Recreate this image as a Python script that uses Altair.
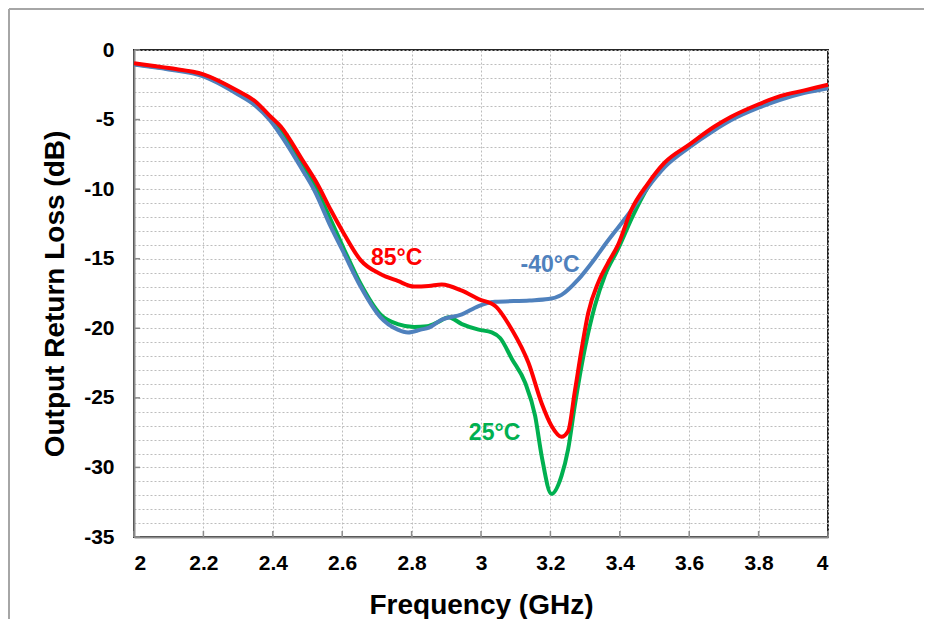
import altair as alt
import pandas as pd

# -40°C (blue)
f_m40 = [2.0, 2.1, 2.2, 2.3, 2.35, 2.39, 2.42, 2.485, 2.52, 2.567, 2.605, 2.653, 2.71, 2.76, 2.79,
         2.826, 2.85, 2.885, 2.945, 2.993, 3.04, 3.14, 3.194, 3.232, 3.28, 3.328, 3.357, 3.397,
         3.44, 3.48, 3.53, 3.6, 3.67, 3.72, 3.8, 3.86, 3.93, 4.0]
db_m40 = [-1.05, -1.4, -1.9, -3.2, -4.0, -5.0, -6.0, -8.6, -10.1, -12.7, -14.6, -17.0, -19.2, -20.1, -20.3,
          -20.1, -19.95, -19.4, -19.0, -18.4, -18.1, -18.0, -17.9, -17.6, -16.5, -15.0, -14.0, -12.7,
          -11.3, -9.9, -8.4, -7.0, -5.8, -5.05, -4.15, -3.6, -3.1, -2.75]

# 25°C (green)
f_25 = [2.0, 2.1, 2.2, 2.3, 2.39, 2.423, 2.485, 2.519, 2.567, 2.605, 2.653, 2.71, 2.76, 2.807,
        2.845, 2.88, 2.906, 2.945, 2.993, 3.031, 3.055, 3.089, 3.127, 3.156, 3.175, 3.203, 3.232,
        3.251, 3.27, 3.299, 3.328, 3.357, 3.395, 3.44, 3.48, 3.53, 3.6, 3.67, 3.72, 3.8, 3.86, 3.93, 4.0]
db_25 = [-1.0, -1.35, -1.8, -3.05, -4.85, -5.7, -8.3, -9.7, -12.2, -14.3, -16.8, -19.0, -19.7, -19.9,
         -19.85, -19.5, -19.2, -19.7, -20.1, -20.3, -20.7, -22.2, -23.9, -26.3, -29.2, -31.9, -30.6,
         -28.7, -25.6, -21.5, -18.4, -16.2, -14.3, -11.8, -9.9, -8.3, -6.95, -5.7, -4.95, -4.05, -3.45, -3.0, -2.6]

# 85°C (red)
f_85 = [2.0, 2.1, 2.2, 2.3, 2.35, 2.39, 2.423, 2.485, 2.53, 2.567, 2.605, 2.653, 2.71, 2.76, 2.807,
        2.849, 2.887, 2.945, 2.993, 3.041, 3.089, 3.137, 3.175, 3.203, 3.232, 3.251, 3.27, 3.29,
        3.309, 3.338, 3.366, 3.395, 3.433, 3.481, 3.529, 3.6, 3.673, 3.721, 3.8, 3.864, 3.932, 4.0]
db_85 = [-0.95, -1.3, -1.75, -2.95, -3.7, -4.7, -5.5, -7.9, -9.7, -11.5, -13.2, -15.1, -16.1, -16.6, -17.0,
         -16.96, -16.85, -17.3, -17.9, -18.4, -20.1, -22.5, -25.4, -27.0, -27.8, -27.4, -24.6, -21.5,
         -18.9, -16.7, -15.3, -14.0, -11.5, -9.6, -8.1, -6.8, -5.5, -4.8, -3.9, -3.3, -2.9, -2.5]

x_ticks = [2.0, 2.2, 2.4, 2.6, 2.8, 3.0, 3.2, 3.4, 3.6, 3.8, 4.0]
y_grid = list(range(-35, 1))
y_major = [0, -5, -10, -15, -20, -25, -30, -35]

label_text = ["85°C", "-40°C", "25°C"]
label_f = [2.757, 3.199, 3.039]
label_db = [-14.95, -15.45, -27.5]
label_color = ["#FF0000", "#4F81BD", "#00B050"]

W, H = 694, 487
FONT = "Liberation Sans"

xs = alt.Scale(domain=[2, 4], nice=False, zero=False)
ys = alt.Scale(domain=[-35, 0], nice=False, zero=False)

x_axis = alt.Axis(values=x_ticks, title="Frequency (GHz)", labelExpr="toString(datum.value)",
                  grid=True, gridDash=[2, 2], gridColor="#BDBDBD", gridWidth=1,
                  ticks=False, domainColor="#8C8C8C", domainWidth=2, labelOverlap=False,
                  labelFont=FONT, labelFontSize=21, labelFontWeight="bold", labelColor="#000000",
                  labelPadding=15, titleFont=FONT, titleFontSize=28, titleFontWeight="bold",
                  titleColor="#000000", titleBaseline="middle", titleY=68)
y_axis = alt.Axis(values=y_grid, title="Output Return Loss (dB)",
                  labelExpr="datum.value % 5 == 0 ? toString(datum.value) : ''",
                  grid=True, gridDash=[2, 2], gridColor="#BDBDBD", gridWidth=1,
                  ticks=False, domainColor="#8C8C8C", domainWidth=2, labelOverlap=False,
                  labelFont=FONT, labelFontSize=21, labelFontWeight="bold", labelColor="#000000",
                  labelPadding=20, titleFont=FONT, titleFontSize=28, titleFontWeight="bold",
                  titleColor="#000000", titleBaseline="middle", titleX=-79)


def series(f, d, color):
    df = pd.DataFrame({"freq": f, "db": d})
    return alt.Chart(df).mark_line(color=color, strokeWidth=4, interpolate="monotone").encode(
        x=alt.X("freq:Q", scale=xs, axis=x_axis),
        y=alt.Y("db:Q", scale=ys, axis=y_axis),
    )


green = series(f_25, db_25, "#00B050")
blue = series(f_m40, db_m40, "#4F81BD")
red = series(f_85, db_85, "#FF0000")

labels_df = pd.DataFrame({"t": label_text, "f": label_f, "d": label_db, "c": label_color})
labels = alt.Chart(labels_df).mark_text(font=FONT, fontSize=23, fontWeight="bold").encode(
    x=alt.X("f:Q", scale=xs, axis=x_axis), y=alt.Y("d:Q", scale=ys, axis=y_axis), text="t:N",
    color=alt.Color("c:N", scale=None),
)

xt = alt.Chart(pd.DataFrame({"v": x_ticks})).mark_rule(color="#8C8C8C", strokeWidth=1.5).encode(
    x=alt.X("v:Q", scale=xs, axis=x_axis), y=alt.value(H), y2=alt.value(H - 6))
yt = alt.Chart(pd.DataFrame({"v": y_major})).mark_rule(color="#8C8C8C", strokeWidth=1.5).encode(
    y=alt.Y("v:Q", scale=ys, axis=y_axis), x=alt.value(0), x2=alt.value(6))

frame_df = pd.DataFrame({"a": [0]})
frame_l = alt.Chart(frame_df).mark_rule(color="#A6A6A6", strokeWidth=2).encode(
    x=alt.value(-125), y=alt.value(-41), y2=alt.value(H + 82))
frame_t = alt.Chart(frame_df).mark_rule(color="#A6A6A6", strokeWidth=2).encode(
    x=alt.value(-125), x2=alt.value(W + 96), y=alt.value(-41))

chart = alt.layer(frame_l, frame_t, green, blue, red, labels, xt, yt).properties(
    width=W, height=H, background="white",
    autosize=alt.AutoSizeParams(type="none"),
    padding={"left": 126, "top": 42, "right": 96, "bottom": 82},
).configure_view(stroke="#262626", strokeWidth=2)

chart.save("out.html", embed_options={"renderer": "svg", "actions": False})
